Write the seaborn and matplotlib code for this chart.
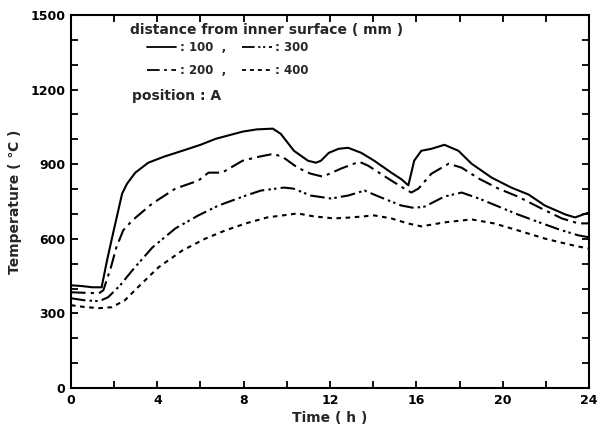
import matplotlib
matplotlib.use("Agg")
import matplotlib.pyplot as plt
from matplotlib.lines import Line2D
from matplotlib.ticker import MultipleLocator
import seaborn as sns

# ---- data ----
t100 = [0, 0.5, 1.0, 1.42, 1.67, 1.95, 2.37, 2.6, 2.98, 3.58, 4.3, 5.16, 6.0, 6.7, 7.95, 8.6, 9.35, 9.72,
        10.33, 10.98, 11.35, 11.58, 11.95, 12.4, 12.84, 13.44, 14.05, 14.84, 15.3, 15.63, 15.9, 16.23,
        16.7, 17.3, 17.95, 18.56, 19.49, 20.4, 21.2, 21.95, 22.9, 23.35, 24]
T100 = [413, 410, 405, 405, 513, 622, 782, 822, 866, 906, 930, 954, 978, 1002, 1031, 1040, 1043, 1022,
        954, 914, 906, 914, 946, 962, 966, 946, 914, 866, 840, 815, 914, 954,
        962, 978, 954, 902, 846, 806, 778, 734, 698, 686, 706]

t200 = [0, 0.6, 1.3, 1.5, 1.85, 2.1, 2.42, 2.84, 3.77, 4.84, 5.9, 6.37, 7.0, 7.95, 8.7, 9.4, 9.86, 10.5,
        11.1, 11.67, 12.5, 13.35, 13.77, 14.7, 15.44, 15.77, 16.1, 16.7, 17.5, 18.1, 18.9, 19.8, 20.7,
        21.7, 22.74, 23.5, 24]
T200 = [385, 383, 381, 393, 485, 565, 634, 674, 742, 802, 834, 866, 866, 914, 930, 942, 926, 886,
        862, 850, 882, 910, 894, 842, 802, 786, 802, 862, 902, 886, 842, 802, 770,
        726, 682, 662, 662]

t300 = [0, 0.6, 1.3, 1.72, 2.28, 2.84, 3.77, 4.84, 5.9, 6.84, 8.1, 8.8, 9.86, 10.3, 11.1, 12.05, 12.84,
        13.6, 14.37, 15.3, 15.9, 16.4, 17.3, 18.1, 18.9, 19.8, 20.7, 21.7, 22.6, 23.5, 24]
T300 = [361, 353, 349, 365, 413, 473, 565, 642, 694, 734, 774, 794, 806, 802, 774, 762, 774,
        794, 766, 734, 724, 730, 770, 786, 762, 730, 698, 666, 638, 614, 606]

t400 = [0, 0.6, 1.3, 1.9, 2.5, 3.1, 4.05, 5.16, 6.23, 7.16, 8.1, 9.1, 10.5, 11.26, 12.2, 13.0, 14.05,
        14.84, 15.6, 16.23, 17.3, 18.56, 19.6, 20.7, 21.95, 22.9, 23.5, 24]
T400 = [333, 326, 321, 325, 353, 405, 485, 553, 601, 634, 662, 686, 702, 690, 682, 686, 694,
        682, 662, 650, 666, 678, 662, 634, 601, 581, 569, 561]

series_labels = [": 100  ,", ": 200  ,", ": 300", ": 400"]
x_ticks = [0, 4, 8, 12, 16, 20, 24]
y_ticks = [0, 300, 600, 900, 1200, 1500]

# ---- styling ----
sns.set_style("ticks")
plt.rcParams["font.family"] = ["DejaVu Sans"]
plt.rcParams["font.weight"] = "bold"

styles = [
    "-",
    (0, (7, 2.5, 1.5, 2.5)),
    (0, (7, 2, 1.2, 1.5, 1.2, 2)),
    (0, (2.2, 2.2)),
]

fig = plt.figure(figsize=(6.03, 4.34), dpi=100)
ax = fig.add_axes([0.1177, 0.106, 0.8591, 0.8594])

data_sets = [(t100, T100), (t200, T200), (t300, T300), (t400, T400)]
for (tt, TT), ls in zip(data_sets, styles):
    sns.lineplot(x=tt, y=TT, ax=ax, color="black", linestyle=ls, linewidth=1.5, legend=False)

ax.set_xlim(0, 24)
ax.set_ylim(0, 1500)
ax.set_xticks(x_ticks)
ax.set_yticks(y_ticks)
ax.xaxis.set_minor_locator(MultipleLocator(2))
ax.yaxis.set_minor_locator(MultipleLocator(100))
ax.tick_params(which="both", direction="in", top=True, right=True, width=1.3, colors="black")
ax.tick_params(which="major", length=5, labelsize=9, pad=4)
ax.tick_params(which="minor", length=5)
for lab in ax.get_xticklabels() + ax.get_yticklabels():
    lab.set_fontweight("bold")
for sp in ax.spines.values():
    sp.set_linewidth(1.5)
    sp.set_color("black")

ax.set_xlabel("Time ( h )", fontsize=10, fontweight="bold", labelpad=3)
ax.set_ylabel("Temperature ( \u2103 )", fontsize=10, fontweight="bold", labelpad=6)

ax.text(0.114, 0.96, "distance from inner surface ( mm )", transform=ax.transAxes,
        fontsize=10, fontweight="bold", va="center", ha="left")

handles = [Line2D([], [], color="black", linestyle=ls, linewidth=1.3) for ls in styles]
ax.legend(handles, series_labels, ncol=2, loc="upper left",
          bbox_to_anchor=(0.13, 0.952), frameon=False,
          prop={"size": 8.5, "weight": "bold"},
          handlelength=2.5, handletextpad=0.3, columnspacing=1.4,
          labelspacing=0.85, borderpad=0.2)

ax.text(0.118, 0.783, "position : A", transform=ax.transAxes, fontsize=10,
        fontweight="bold", va="center", ha="left")

fig.savefig("out.png", dpi=100)
